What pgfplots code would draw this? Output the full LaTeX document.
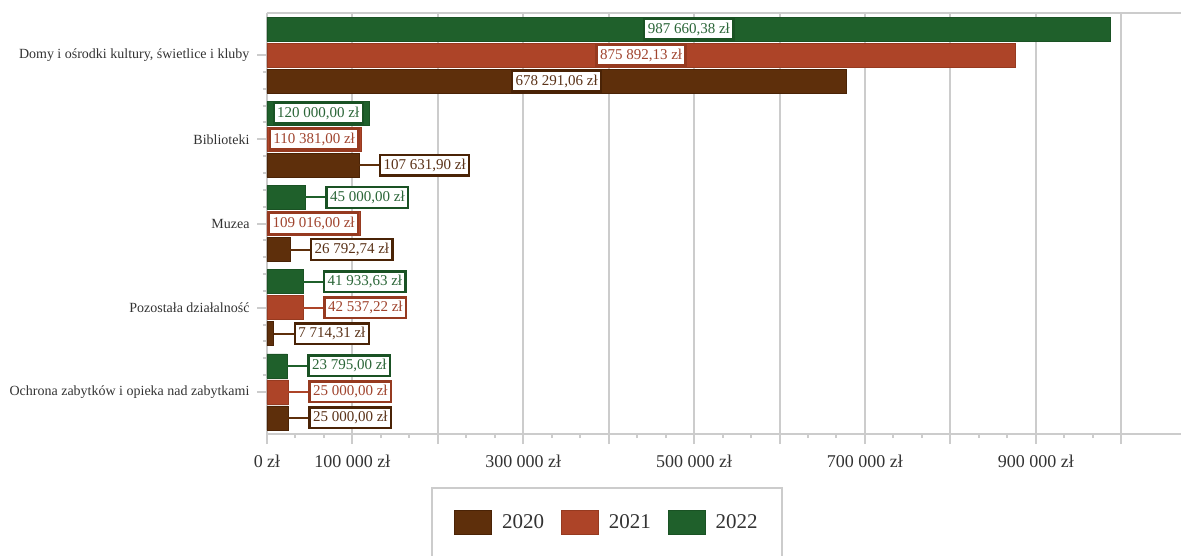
\documentclass[border=0pt]{standalone}
\usepackage{pgfplots}
\pgfplotsset{compat=1.18}
\usepackage{pgfplotstable}
\usepackage{fontspec}
\setmainfont{Liberation Serif}

\definecolor{c20}{HTML}{5E2F0B}
\definecolor{c20d}{HTML}{4A2306}
\definecolor{c20t}{HTML}{5A3218}
\definecolor{c21}{HTML}{AD4428}
\definecolor{c21d}{HTML}{963A20}
\definecolor{c21t}{HTML}{A0442E}
\definecolor{c22}{HTML}{1F602B}
\definecolor{c22d}{HTML}{1A5224}
\definecolor{c22t}{HTML}{2B6638}
\definecolor{gridc}{HTML}{CCCCCC}
\definecolor{txt}{HTML}{333333}

% c: category (0 = bottom), v: value, lab: label, pos: 0 inside / 1 outside
\pgfplotstableread[col sep=semicolon]{
c;v;lab;pos
4;678291.06;678 291,06 zł;0
3;107631.90;107 631,90 zł;1
2;26792.74;26 792,74 zł;1
1;7714.31;7 714,31 zł;1
0;25000.00;25 000,00 zł;1
}\tA
\pgfplotstableread[col sep=semicolon]{
c;v;lab;pos
4;875892.13;875 892,13 zł;0
3;110381.00;110 381,00 zł;0
2;109016.00;109 016,00 zł;0
1;42537.22;42 537,22 zł;1
0;25000.00;25 000,00 zł;1
}\tB
\pgfplotstableread[col sep=semicolon]{
c;v;lab;pos
4;987660.38;987 660,38 zł;0
3;120000.00;120 000,00 zł;0
2;45000.00;45 000,00 zł;1
1;41933.63;41 933,63 zł;1
0;23795.00;23 795,00 zł;1
}\tC

\tikzset{
  labbox/.style={fill=white, draw=#1d, text=#1t, line width=2.4pt,
    inner xsep=3.5pt, inner ysep=4pt, font=\fontsize{15}{15}\selectfont},
}
\pgfplotsset{
  mybar/.style={xbar, bar width=0.285, fill=#1, draw=#1d, line width=0.6pt,
    legend image code/.code={\draw[fill=#1, draw=#1d, line width=0.8pt] (0pt,-12pt) rectangle (37pt,12pt);}},
  inlab/.style={draw=none, forget plot, nodes near coords, point meta=explicit symbolic,
    every node near coord/.style={labbox=#1, anchor=center}},
  outlab/.style={draw=none, forget plot, nodes near coords, point meta=explicit symbolic,
    every node near coord/.style={labbox=#1, anchor=west, xshift=20pt,
      append after command={(\tikzlastnode.west) edge[draw=#1, line width=2pt] ++(-20pt,0pt)}}},
}

\begin{document}
\begin{tikzpicture}
\begin{axis}[
  scale only axis, width=914pt, height=421pt,
  xmin=0, xmax=1070000, ymin=-0.5, ymax=4.5,
  axis y line*=left,
  xtick pos=bottom, ytick pos=left,
  tick align=outside,
  axis line style={gridc, line width=2pt},
  tick style={gridc, line width=2pt},
  major tick length=10pt, minor tick length=4pt,
  xmajorgrids, major grid style={gridc, line width=2pt},
  scaled x ticks=false,
  xtick={0,100000,200000,300000,400000,500000,600000,700000,800000,900000,1000000},
  xticklabels={0 zł,100 000 zł,,300 000 zł,,500 000 zł,,700 000 zł,,900 000 zł,},
  minor x tick num=2,
  ytick={0,1,2,3,4},
  yticklabels={Ochrona zabytków i opieka nad zabytkami, Pozostała działalność, Muzea, Biblioteki, {Domy i ośrodki kultury, świetlice i kluby}},
  minor y tick num=4,
  xticklabel style={font=\fontsize{18}{18}\selectfont, text=txt, yshift=-7pt},
  yticklabel style={font=\fontsize{14}{14}\selectfont, text=txt, xshift=-4pt},
  legend columns=3,
  legend style={at={(0.372,0)}, anchor=north, yshift=-53pt, draw=gridc, line width=2pt,
    inner xsep=22pt, inner ysep=22pt, font=\fontsize{21}{21}\selectfont, text=txt,
    /tikz/every odd column/.append style={column sep=8pt},
    /tikz/every even column/.append style={column sep=15pt}},
]
\addplot[mybar=c20, bar shift=-0.309] table[x=v, y=c] {\tA};
\addplot[mybar=c21, bar shift=0] table[x=v, y=c] {\tB};
\addplot[mybar=c22, bar shift=0.309] table[x=v, y=c] {\tC};
\legend{2020,2021,2022}

\addplot[inlab=c20, restrict expr to domain={\thisrow{pos}}{0:0}]
  table[x expr=\thisrow{v}/2, y expr=\thisrow{c}-0.309, meta=lab] {\tA};
\addplot[outlab=c20, restrict expr to domain={\thisrow{pos}}{1:1}]
  table[x=v, y expr=\thisrow{c}-0.309, meta=lab] {\tA};
\addplot[inlab=c21, restrict expr to domain={\thisrow{pos}}{0:0}]
  table[x expr=\thisrow{v}/2, y=c, meta=lab] {\tB};
\addplot[outlab=c21, restrict expr to domain={\thisrow{pos}}{1:1}]
  table[x=v, y=c, meta=lab] {\tB};
\addplot[inlab=c22, restrict expr to domain={\thisrow{pos}}{0:0}]
  table[x expr=\thisrow{v}/2, y expr=\thisrow{c}+0.309, meta=lab] {\tC};
\addplot[outlab=c22, restrict expr to domain={\thisrow{pos}}{1:1}]
  table[x=v, y expr=\thisrow{c}+0.309, meta=lab] {\tC};
\end{axis}
\pgfresetboundingbox
\path[use as bounding box] (-267pt,-121pt) rectangle (916pt,434pt);
\end{tikzpicture}
\end{document}
